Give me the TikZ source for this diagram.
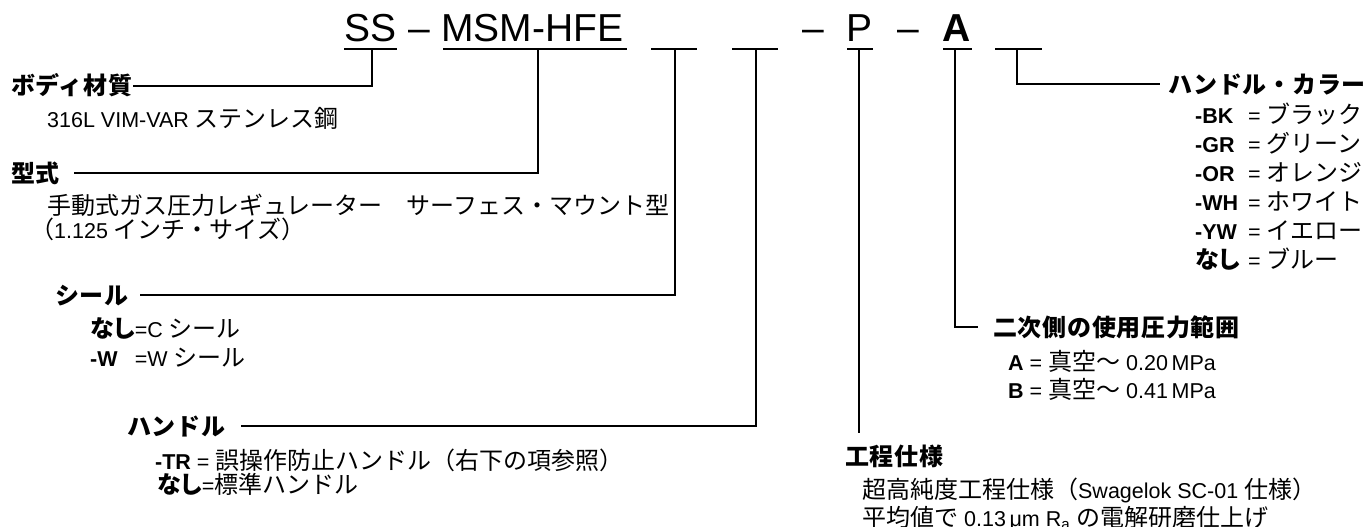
\documentclass[tikz,border=0pt]{standalone}
\usepackage{fontspec}
\usetikzlibrary{calc}
\setmainfont{Liberation Sans}
\newfontfamily\lat{Liberation Sans}
\newfontfamily\jpr{Noto Sans CJK JP}[Scale=1.116]
\newfontfamily\jph{Noto Sans CJK JP}[Scale=1.116,LetterSpace=3]
\newfontfamily\jpp{Noto Sans CJK JP}[Scale=1.116,RawFeature=+palt]
\let\curjp\jpr
\XeTeXinterchartokenstate=1
\newXeTeXintercharclass\JPclass
\newcount\jpcnt
\newcommand\setjprange[2]{\jpcnt=#1\relax
  \loop\XeTeXcharclass\jpcnt=\JPclass
  \ifnum\jpcnt<#2\relax\advance\jpcnt by 1\repeat}
\setjprange{"3000}{"30FF}
\setjprange{"4E00}{"9FFF}
\setjprange{"FF01}{"FF60}
\XeTeXinterchartoks 0 \JPclass = {\curjp}
\XeTeXinterchartoks 4095 \JPclass = {\curjp}
\XeTeXinterchartoks \JPclass 0 = {\lat}
\XeTeXinterchartoks \JPclass 4095 = {\lat}
\newcommand\nashi{{\bfseries\let\curjp\jpp なし}}
\newlength\nsw
\begin{document}
\settowidth\nsw{\fontsize{21.5}{25}\selectfont\nashi}
\begin{tikzpicture}[x=1pt,y=-1pt,
  conn/.style={line width=1.8pt},
  ttl/.style={font={\fontsize{39}{44}\selectfont}, inner sep=0pt, anchor=base west},
  head/.style={font={\fontsize{21.5}{25}\selectfont\bfseries\let\curjp\jph}, inner sep=0pt, anchor=base west},
  txt/.style={font={\fontsize{21.5}{25}\selectfont}, inner sep=0pt, anchor=base west}]
\path[fill=white] (0,0) rectangle (1366,527);
\useasboundingbox (0,0) rectangle (1366,527);
% title
\node[ttl] (tSS) at (344,42) {SS};
\node[ttl] (tD1) at (408,42) {–};
\node[ttl] (tMSM) at (441,42) {MSM-HFE};
\node[ttl] (tD2) at (802,42) {–};
\node[ttl] (tP) at (846,42) {P};
\node[ttl] (tD3) at (897,42) {–};
\node[ttl,font={\fontsize{39}{44}\selectfont\bfseries}] (tA) at (942,42) {A};
% underline coordinates
\coordinate (ssL) at (344,49); \coordinate (ssR) at (397,49); \coordinate (ssD) at (372,49);
\coordinate (msL) at (443,49); \coordinate (msR) at (627,49); \coordinate (msD) at (538,49);
\coordinate (b1L) at (651,49); \coordinate (b1R) at (697,49); \coordinate (b1D) at (675,49);
\coordinate (b2L) at (732,49); \coordinate (b2R) at (778,49); \coordinate (b2D) at (756,49);
\coordinate (pL) at (847,49); \coordinate (pR) at (873,49); \coordinate (pD) at (859,49);
\coordinate (aL) at (943,49); \coordinate (aR) at (972,49); \coordinate (aD) at (955,49);
\coordinate (b3L) at (995,49); \coordinate (b3R) at (1042,49); \coordinate (b3D) at (1017,49);
\foreach \u in {ss,ms,b1,b2,p,a,b3} { \draw[conn] (\u L) -- (\u R); }
% left labels
\node[head] (body) at (11,95) {ボディ材質};
\node[txt] (bodyv) at (47,128) {316L VIM-VAR ステンレス鋼};
\node[head] (kata) at (11,182) {型式};
\node[txt] (katav1) at (47,214) {手動式ガス圧力レギュレーター　サーフェス・マウント型};
\node[txt] (katav2) at (30,238) {（1.125 インチ・サイズ）};
\node[head] (seal) at (55,304) {シール};
\node[txt] (sealv1) at (90,337) {\nashi=C シール};
\node[txt] (sealv2) at (90,366) {\makebox[\nsw][l]{\bfseries -W}=W シール};
\node[head] (hdl) at (127,435) {ハンドル};
\node[txt] (hdlv1) at (155,469) {\textbf{-TR} = 誤操作防止ハンドル（右下の項参照）};
\node[txt] (hdlv2) at (157,493) {\nashi=標準ハンドル};
% right labels
\node[head,anchor=base east] (hcol) at (1366,93) {ハンドル・カラー};
\node[txt] (c1) at (1195,123) {\makebox[53pt][l]{\bfseries -BK}= ブラック};
\node[txt] (c2) at (1195,152) {\makebox[53pt][l]{\bfseries -GR}= グリーン};
\node[txt] (c3) at (1195,181) {\makebox[53pt][l]{\bfseries -OR}= オレンジ};
\node[txt] (c4) at (1195,210) {\makebox[53pt][l]{\bfseries -WH}= ホワイト};
\node[txt] (c5) at (1195,239) {\makebox[53pt][l]{\bfseries -YW}= イエロー};
\node[txt] (c6) at (1195,268) {\makebox[53pt][l]{\nashi}= ブルー};
\node[head] (niji) at (993,336) {二次側の使用圧力範囲};
\node[txt] (niji1) at (1008,370) {\textbf{A} = 真空～ 0.20\,MPa};
\node[txt] (niji2) at (1008,398) {\textbf{B} = 真空～ 0.41\,MPa};
\node[head] (kotei) at (845,465) {工程仕様};
\node[txt] (kotei1) at (862,498) {超高純度工程仕様（Swagelok SC-01 仕様）};
\node[txt] (kotei2) at (862,526) {平均値で 0.13\,μm R\textsubscript{a} の電解研磨仕上げ};
\coordinate (kotTop) at ($(kotei.base west)+(0,-32)$);
% connectors
\draw[conn] (ssD) |- ($(body.base east)+(0,-9)$);
\draw[conn] (msD) |- ($(kata.base east)+(14,-9)$);
\draw[conn] (b1D) |- ($(seal.base east)+(11,-9)$);
\draw[conn] (b2D) |- ($(hdl.base east)+(15,-9)$);
\draw[conn] (pD) -- (pD |- kotTop);
\draw[conn] (aD) |- ($(niji.base west)+(-15,-9)$);
\draw[conn] (b3D) |- ($(hcol.base west)+(-9,-9)$);
\end{tikzpicture}
\end{document}
